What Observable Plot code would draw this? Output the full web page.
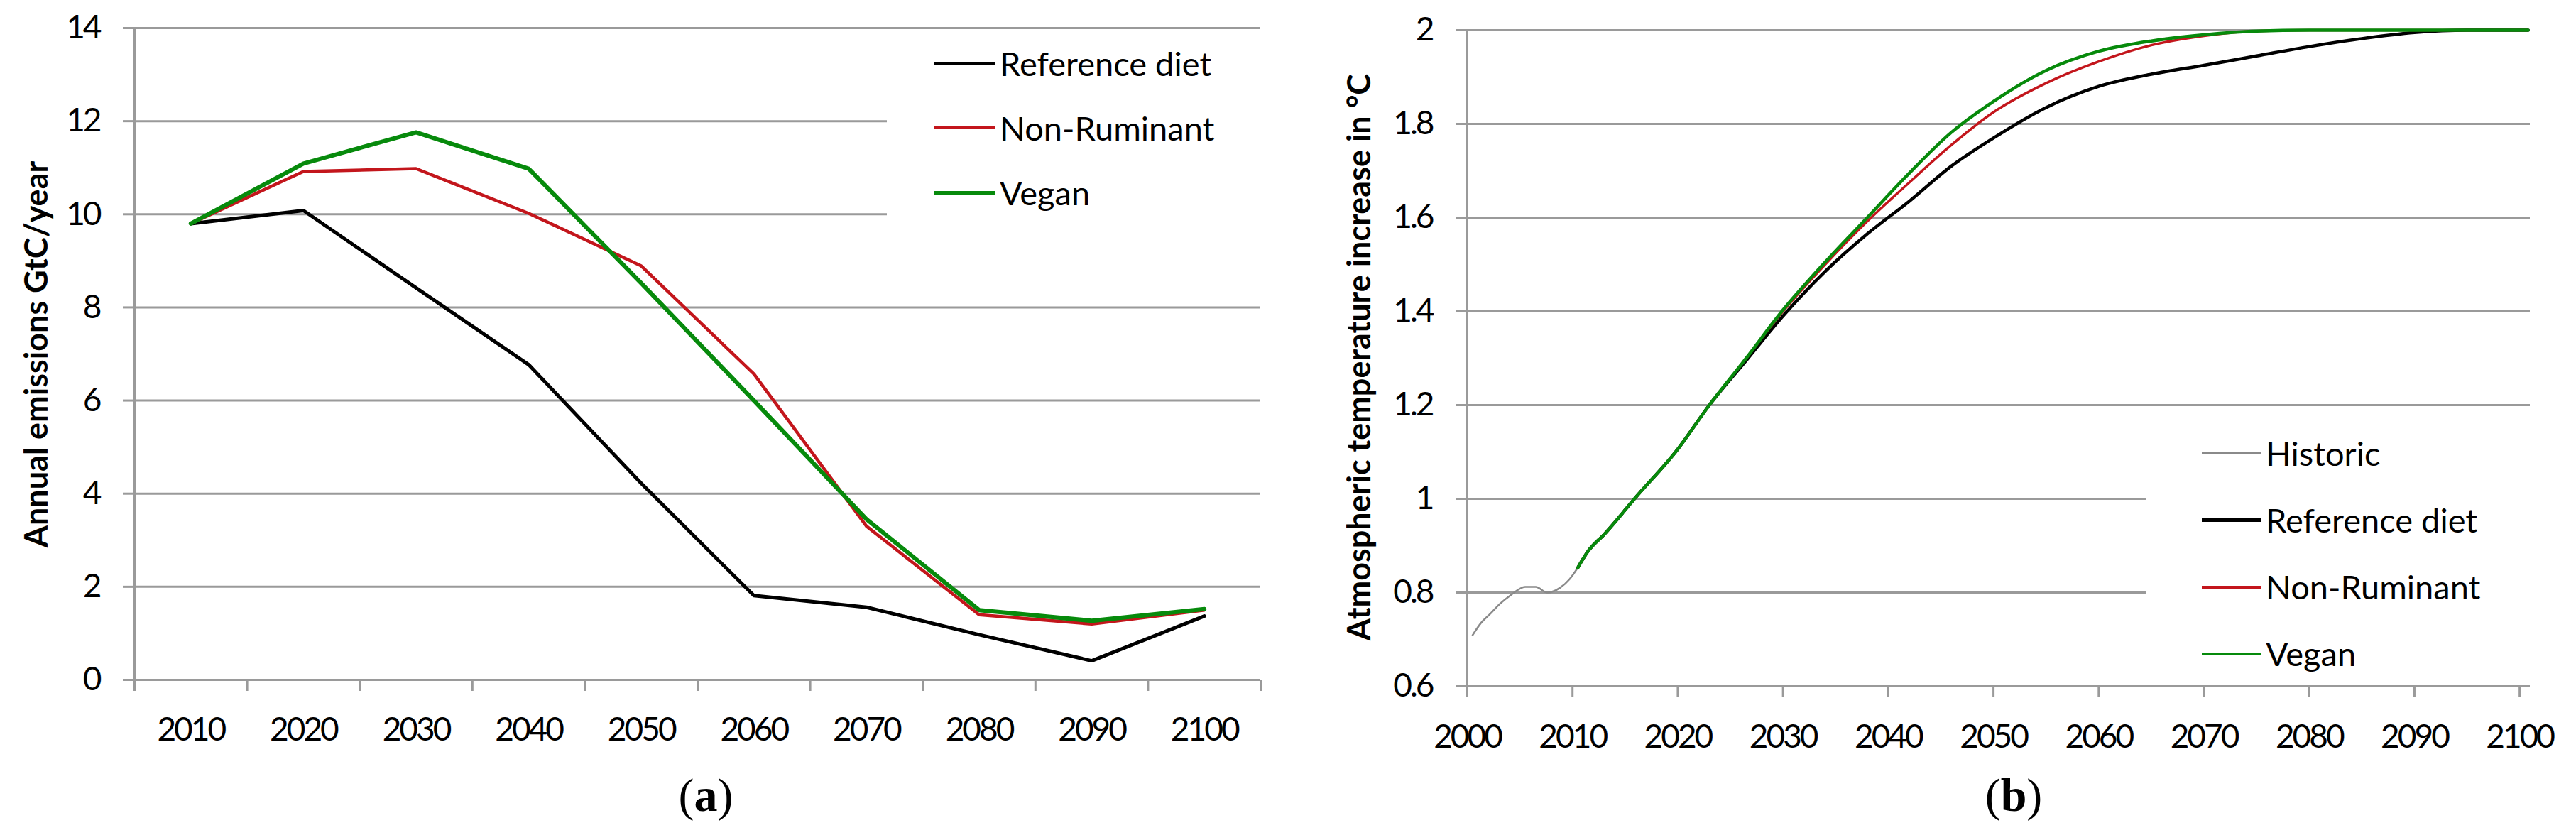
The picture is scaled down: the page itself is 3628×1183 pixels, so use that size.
<!DOCTYPE html>
<html><head><meta charset="utf-8">
<script src="https://cdn.jsdelivr.net/npm/d3@7"></script>
<script src="https://cdn.jsdelivr.net/npm/@observablehq/plot@0.6"></script>
<style>
html,body{margin:0;padding:0;background:#fff;}
body{width:3628px;height:1183px;overflow:hidden;position:relative;font-family:Lato,"Open Sans",sans-serif;color:#000;}
.abs{position:absolute;}
.ytitle{position:absolute;white-space:nowrap;font:bold 45px Lato,sans-serif;transform:translate(-50%,-50%) rotate(-90deg);}
.cap{position:absolute;white-space:nowrap;font:66px "Liberation Serif",serif;transform:translate(-50%,-50%);}
.cap b{font-weight:bold;}
.legbox{position:absolute;background:#fff;}
.leg{position:absolute;height:0;display:flex;align-items:center;white-space:nowrap;}
.leg .ln{display:inline-block;width:86px;}
.leg .tx{margin-left:6px;font:47px Lato,sans-serif;line-height:1;}
g[aria-label$="tick label"] text{letter-spacing:-3px;}
</style></head><body>
<div id="pa" class="abs" style="left:0;top:0"></div>
<div id="pb" class="abs" style="left:1814px;top:0"></div>
<script>
// ---------- Panel (a) data: annual emissions GtC/year ----------
const yearsA = [2010, 2020, 2030, 2040, 2050, 2060, 2070, 2080, 2090, 2100];
const referenceDietA = [9.8, 10.08, 8.42, 6.77, 4.22, 1.81, 1.56, 0.97, 0.41, 1.37];
const nonRuminantA = [9.8, 10.92, 10.98, 10.02, 8.89, 6.57, 3.3, 1.4, 1.2, 1.5];
const veganA = [9.8, 11.09, 11.76, 10.98, 8.52, 6.0, 3.45, 1.5, 1.27, 1.52];
const yTicksA = [0, 2, 4, 6, 8, 10, 12, 14];
const catBoundsA = [2005, 2015, 2025, 2035, 2045, 2055, 2065, 2075, 2085, 2095, 2105];

// ---------- Panel (b) data: atmospheric temperature increase °C ----------
const historicYears = [2000.5, 2001.3, 2002.2, 2003.1, 2004.1, 2005.5, 2006.5, 2007.6, 2008.8, 2009.7, 2010.5];
const historicTemp = [0.709, 0.735, 0.755, 0.776, 0.794, 0.812, 0.812, 0.800, 0.810, 0.828, 0.853];
const projYears = [2010.5, 2011.5, 2013, 2016, 2020, 2023, 2026.5, 2030, 2034, 2038, 2042, 2046, 2050, 2055, 2060, 2065, 2070, 2075, 2080, 2085, 2090, 2095, 2100.8];
const referenceDietB = [0.853, 0.889, 0.924, 1.003, 1.106, 1.2, 1.295, 1.39, 1.485, 1.565, 1.635, 1.71, 1.77, 1.835, 1.88, 1.906, 1.925, 1.945, 1.965, 1.982, 1.995, 2.0, 2.0];
const nonRuminantB = [0.853, 0.889, 0.924, 1.003, 1.106, 1.2, 1.3, 1.40, 1.50, 1.592, 1.675, 1.755, 1.825, 1.887, 1.933, 1.968, 1.988, 1.998, 2.0, 2.0, 2.0, 2.0, 2.0];
const veganB = [0.853, 0.889, 0.924, 1.003, 1.106, 1.2, 1.3, 1.403, 1.505, 1.60, 1.695, 1.782, 1.848, 1.914, 1.955, 1.977, 1.99, 1.998, 2.0, 2.0, 2.0, 2.0, 2.0];
const yTicksB = [0.6, 0.8, 1.0, 1.2, 1.4, 1.6, 1.8, 2.0];
const xTicksB = [2000, 2010, 2020, 2030, 2040, 2050, 2060, 2070, 2080, 2090, 2100];

const C = {ref: "#000000", non: "#c3161c", veg: "#078a0c", hist: "#8a8a8a", grid: "#9a9a9a"};

function rows(xs, ys) { return xs.map((x, i) => ({x, y: ys[i]})); }

const baseStyle = {fontFamily: "Lato, sans-serif", fontSize: "46px", color: "#000", background: "transparent", overflow: "visible"};

const chartA = Plot.plot({
  width: 1814, height: 1060,
  marginLeft: 189, marginRight: 39, marginTop: 39, marginBottom: 103,
  style: baseStyle,
  x: {domain: [2005, 2105]},
  y: {domain: [0, 14]},
  marks: [
    Plot.gridY(yTicksA, {stroke: C.grid, strokeOpacity: 1, strokeWidth: 3}),
    Plot.axisY(yTicksA, {tickSize: 16, tickPadding: 33, stroke: C.grid, strokeWidth: 3, fill: "#000", tickFormat: d => String(d), label: null}),
    Plot.axisX(catBoundsA, {tickSize: 16, stroke: C.grid, strokeWidth: 3, tickFormat: () => "", label: null}),
    Plot.axisX(yearsA, {tickSize: 0, tickPadding: 53, fill: "#000", tickFormat: d => String(d), label: null}),
    Plot.ruleY([0], {stroke: C.grid, strokeWidth: 3}),
    Plot.ruleX([2005], {stroke: C.grid, strokeWidth: 3}),
    Plot.line(rows(yearsA, referenceDietA), {x: "x", y: "y", stroke: C.ref, strokeWidth: 5}),
    Plot.line(rows(yearsA, nonRuminantA), {x: "x", y: "y", stroke: C.non, strokeWidth: 4.5}),
    Plot.line(rows(yearsA, veganA), {x: "x", y: "y", stroke: C.veg, strokeWidth: 6})
  ]
});
document.getElementById("pa").appendChild(chartA);

const chartB = Plot.plot({
  width: 1814, height: 1060,
  marginLeft: 252, marginRight: 65, marginTop: 42, marginBottom: 94,
  style: baseStyle,
  x: {domain: [2000, 2101]},
  y: {domain: [0.6, 2.0]},
  marks: [
    Plot.gridY(yTicksB, {stroke: C.grid, strokeOpacity: 1, strokeWidth: 3}),
    Plot.axisY(yTicksB, {tickSize: 16, tickPadding: 33, stroke: C.grid, strokeWidth: 3, fill: "#000", tickFormat: d => String(+d.toFixed(1)), label: null}),
    Plot.axisX(xTicksB, {tickSize: 16, tickPadding: 38, stroke: C.grid, strokeWidth: 3, fill: "#000", tickFormat: d => String(d), label: null}),
    Plot.ruleY([0.6], {stroke: C.grid, strokeWidth: 3}),
    Plot.ruleX([2000], {stroke: C.grid, strokeWidth: 3}),
    Plot.line(rows(historicYears, historicTemp), {x: "x", y: "y", stroke: C.hist, strokeWidth: 2.5, curve: "monotone-x"}),
    Plot.line(rows(projYears, referenceDietB), {x: "x", y: "y", stroke: C.ref, strokeWidth: 4.5, curve: "monotone-x"}),
    Plot.line(rows(projYears, nonRuminantB), {x: "x", y: "y", stroke: C.non, strokeWidth: 3.5, curve: "monotone-x"}),
    Plot.line(rows(projYears, veganB), {x: "x", y: "y", stroke: C.veg, strokeWidth: 4.5, curve: "monotone-x"})
  ]
});
document.getElementById("pb").appendChild(chartB);

// ---------- titles, captions, legends ----------
const body = document.body;
function add(html) { const d = document.createElement("div"); d.innerHTML = html; body.appendChild(d.firstElementChild); }
add(`<div class="ytitle" style="left:50px;top:499px">Annual emissions GtC/year</div>`);
add(`<div class="ytitle" style="left:1913px;top:503px">Atmospheric temperature increase in °C</div>`);
add(`<div class="cap" style="left:994px;top:1120px">(<b>a</b>)</div>`);
add(`<div class="cap" style="left:2836px;top:1120px">(<b>b</b>)</div>`);

const legendA = [["Reference diet", C.ref, 5], ["Non-Ruminant", C.non, 4.5], ["Vegan", C.veg, 5]];
const legendB = [["Historic", C.hist, 2.5], ["Reference diet", C.ref, 5], ["Non-Ruminant", C.non, 4], ["Vegan", C.veg, 4.5]];
add(`<div class="legbox" style="left:1249px;top:46px;width:526px;height:272px"></div>`);
add(`<div class="legbox" style="left:3022px;top:585px;width:541px;height:370px"></div>`);
legendA.forEach(([t, c, w], i) => add(`<div class="leg" style="left:1316px;top:${89 + i * 91}px"><span class="ln" style="height:${w}px;background:${c}"></span><span class="tx">${t}</span></div>`));
legendB.forEach(([t, c, w], i) => add(`<div class="leg" style="left:3101px;top:${638 + i * 94.3}px"><span class="ln" style="width:84px;height:${w}px;background:${c}"></span><span class="tx">${t}</span></div>`));
</script>
</body></html>
